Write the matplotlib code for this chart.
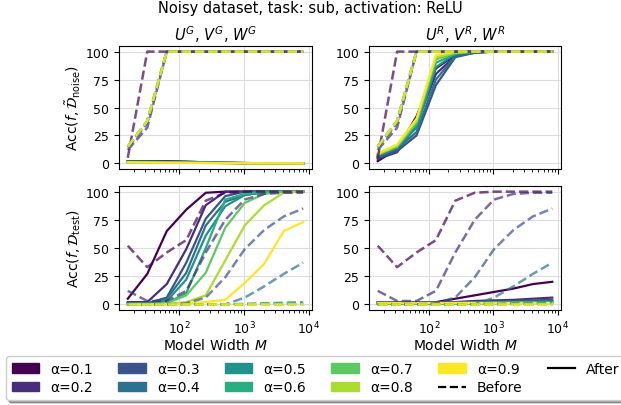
import numpy as np
import matplotlib
matplotlib.use("Agg")
import matplotlib.pyplot as plt
from matplotlib.patches import Patch
from matplotlib.lines import Line2D

plt.rcParams['font.size'] = 10
plt.rcParams['xtick.labelsize'] = 9
plt.rcParams['ytick.labelsize'] = 9

widths = [16, 32, 64, 128, 256, 512, 1024, 2048, 4096, 8192]
alphas = [0.1, 0.2, 0.3, 0.4, 0.5, 0.6, 0.7, 0.8, 0.9]

# noise accuracy, before training (same for both columns)
noise_before = [
    [5, 100, 100, 100, 100, 100, 100, 100, 100, 100],
    [12, 32, 100, 100, 100, 100, 100, 100, 100, 100],
    [14, 36, 100, 100, 100, 100, 100, 100, 100, 100],
    [15, 37, 100, 100, 100, 100, 100, 100, 100, 100],
    [15, 38, 100, 100, 100, 100, 100, 100, 100, 100],
    [15, 38, 100, 100, 100, 100, 100, 100, 100, 100],
    [15, 38, 100, 100, 100, 100, 100, 100, 100, 100],
    [15, 38, 100, 100, 100, 100, 100, 100, 100, 100],
    [15, 38, 100, 100, 100, 100, 100, 100, 100, 100],
]
# noise accuracy after, G init
noise_after_g = [
    [2, 2, 2, 1.5, 1, 0.5, 0.3, 0.2, 0.1, 0],
    [2, 2, 1.8, 1.5, 1, 0.5, 0.3, 0.2, 0.1, 0],
    [1.5, 1.5, 1.5, 1.2, 0.8, 0.5, 0.3, 0.2, 0.1, 0],
    [1.5, 1.5, 1.2, 1, 0.8, 0.5, 0.3, 0.2, 0.1, 0],
    [1.5, 1.2, 1, 0.8, 0.6, 0.4, 0.3, 0.2, 0.1, 0],
    [1.2, 1, 0.8, 0.6, 0.5, 0.4, 0.3, 0.2, 0.1, 0],
    [1, 0.8, 0.6, 0.5, 0.4, 0.3, 0.2, 0.1, 0.1, 0],
    [1, 0.8, 0.6, 0.5, 0.4, 0.3, 0.2, 0.1, 0.1, 0],
    [1, 0.8, 0.6, 0.5, 0.4, 0.3, 0.2, 0.1, 0.1, 0],
]
# noise accuracy after, R init
noise_after_r = [
    [2, 13, 42, 85, 97, 100, 100, 100, 100, 100],
    [4, 10, 35, 80, 96, 99, 100, 100, 100, 100],
    [5, 11, 25, 70, 95, 99, 100, 100, 100, 100],
    [6, 13, 28, 75, 96, 99, 100, 100, 100, 100],
    [7, 14, 32, 86, 98, 100, 100, 100, 100, 100],
    [8, 15, 35, 90, 98, 100, 100, 100, 100, 100],
    [8, 15, 37, 93, 99, 100, 100, 100, 100, 100],
    [8, 16, 38, 95, 99, 100, 100, 100, 100, 100],
    [9, 17, 40, 97, 100, 100, 100, 100, 100, 100],
]
# test accuracy, before training (same for both columns)
test_before = [
    [52, 33, 46, 57, 92, 99, 100, 100, 100, 100],
    [12, 3, 3, 12, 46, 75, 93, 98, 99, 99],
    [0, 0, 0, 1, 6, 24, 49, 66, 78, 85],
    [0, 0, 0, 0, 0, 0, 6, 16, 27, 37],
    [0, 0, 0, 0, 0, 0, 0.5, 1, 1.5, 2],
    [0, 0, 0, 0, 0, 0, 0, 0.5, 0.5, 1],
    [0, 0, 0, 0, 0, 0, 0, 0, 0, 0],
    [0, 0, 0, 0, 0, 0, 0, 0, 0, 0],
    [0, 0, 0, 0, 0, 0, 0, 0, 0, 0],
]
# test accuracy after, G init
test_after_g = [
    [5, 27, 65, 84, 99, 100, 100, 100, 100, 100],
    [2, 2, 18, 49, 88, 100, 100, 100, 100, 100],
    [1, 1, 6, 37, 76, 96, 100, 100, 100, 100],
    [1, 1, 5, 28, 70, 91, 97, 100, 100, 100],
    [1, 1, 3, 22, 61, 87, 97, 99, 100, 100],
    [0, 0, 1, 10, 50, 93, 98, 100, 100, 100],
    [0, 0, 1, 8, 28, 68, 90, 98, 100, 100],
    [0, 0, 0, 2, 8, 39, 70, 88, 99, 100],
    [0, 0, 0, 1, 2, 4, 19, 36, 65, 73],
]
# test accuracy after, R init
test_after_r = [
    [2, 2, 2, 2, 5, 8, 11, 14, 18, 20],
    [2, 2, 2, 2, 2, 3, 3.5, 4, 5, 6],
    [1, 1, 1, 1, 1.5, 2, 2.5, 3, 3.5, 4],
    [1, 1, 1, 1, 1, 1.5, 2, 2, 2.5, 3],
    [1, 1, 1, 1, 1, 1, 1.5, 1.5, 2, 2],
    [1, 1, 1, 1, 1, 1, 1, 1.5, 1.5, 1.5],
    [1, 1, 1, 1, 1, 1, 1, 1, 1, 1],
    [1, 1, 1, 1, 1, 1, 1, 1, 1, 1],
    [1, 1, 1, 1, 1, 1, 1, 1, 1, 1],
]

colors = plt.cm.viridis(np.linspace(0, 1, len(alphas)))

fig = plt.figure(figsize=(6.21, 4.06), dpi=100)
W, H = 621, 406
def box(x0, x1, y0, y1):
    return [x0 / W, 1 - y1 / H, (x1 - x0) / W, (y1 - y0) / H]

ax_tl = fig.add_axes(box(119, 312, 47, 170))
ax_tr = fig.add_axes(box(369, 561, 47, 170))
ax_bl = fig.add_axes(box(119, 312, 187, 311))
ax_br = fig.add_axes(box(369, 561, 187, 311))

panels = [
    (ax_tl, noise_after_g, noise_before),
    (ax_tr, noise_after_r, noise_before),
    (ax_bl, test_after_g, test_before),
    (ax_br, test_after_r, test_before),
]
for ax, after, before in panels:
    for i in range(len(alphas)):
        ax.plot(widths, after[i], color=colors[i], lw=1.6)
    for i in range(len(alphas)):
        ax.plot(widths, before[i], color=colors[i], lw=1.8, ls='--', alpha=0.7)
    ax.set_xscale('log')
    ax.set_ylim(-5, 105)
    ax.set_yticks([0, 25, 50, 75, 100])
    ax.grid(True, color='#dddddd', lw=0.8)
    ax.set_axisbelow(True)

for ax in (ax_tl, ax_tr):
    ax.tick_params(axis='x', which='both', labelbottom=False)
for ax in (ax_bl, ax_br):
    ax.set_xlabel('Model Width $M$', labelpad=0.5)

ax_tl.set_title('$U^G$, $V^G$, $W^G$', fontsize=10.5, pad=4)
ax_tr.set_title('$U^R$, $V^R$, $W^R$', fontsize=10.5, pad=4)
ax_tl.set_ylabel(r'Acc$(f, \tilde{\mathcal{D}}_{\rm noise})$', labelpad=2)
ax_bl.set_ylabel(r'Acc$(f, \mathcal{D}_{\rm test})$', labelpad=2)
fig.suptitle('Noisy dataset, task: sub, activation: ReLU', fontsize=10.5, y=0.997)

handles = [Patch(color=colors[i], label='\u03b1=%.1f' % a) for i, a in enumerate(alphas)]
handles.append(Line2D([], [], color='black', lw=1.6, ls='--', label='Before'))
handles.append(Line2D([], [], color='black', lw=1.6, label='After'))
fig.legend(handles=handles, loc='upper left', bbox_to_anchor=(6 / W, 1 - 357 / H),
           ncol=6, shadow=True, fancybox=True, fontsize=10, borderaxespad=0,
           labelspacing=0.35, columnspacing=1.8)

fig.savefig('out.png', dpi=100)
